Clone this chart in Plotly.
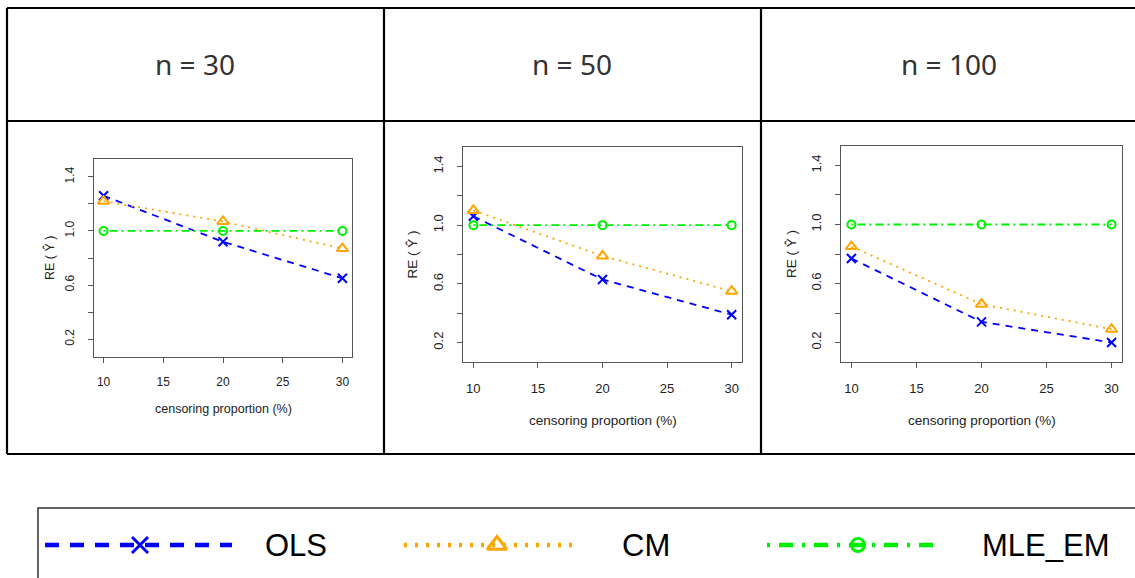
import plotly.graph_objects as go

W, H = 1135, 578

# censoring proportion (%) on the x axis
censoring = [10, 20, 30]
panel_titles = ["n = 30", "n = 50", "n = 100"]

# relative efficiency RE(Y-hat) for each sample size
ols_n30 = [1.26, 0.92, 0.65]
cm_n30 = [1.22, 1.07, 0.87]
mle_n30 = [1.00, 1.00, 1.00]

ols_n50 = [1.06, 0.63, 0.39]
cm_n50 = [1.10, 0.79, 0.55]
mle_n50 = [1.00, 1.00, 1.00]

ols_n100 = [0.77, 0.34, 0.20]
cm_n100 = [0.85, 0.46, 0.29]
mle_n100 = [1.00, 1.00, 1.00]

y_tickvals = [0.2, 0.4, 0.6, 0.8, 1.0, 1.2, 1.4]
y_ticktext = ["0.2", "", "0.6", "", "1.0", "", "1.4"]
x_tickvals = [10, 15, 20, 25, 30]

series_names = ["OLS", "CM", "MLE_EM"]
panels_data = [
    (ols_n30, cm_n30, mle_n30),
    (ols_n50, cm_n50, mle_n50),
    (ols_n100, cm_n100, mle_n100),
]

BLUE, ORANGE, GREEN = "#0000FF", "#FFA500", "#00EE00"
styles = {
    "OLS": dict(color=BLUE, dash="7px,6px", symbol="x-thin", msize=9),
    "CM": dict(color=ORANGE, dash="2px,5px", symbol="triangle-up-open", msize=10),
    "MLE_EM": dict(color=GREEN, dash="2px,4px,8px,4px", symbol="circle-open", msize=8),
}


def px_x(x):
    return x / W


def px_y(y):
    return 1 - y / H


# plot-box pixel extents (left, right, top, bottom) and label sizes per panel
boxes = [
    dict(l=94, r=352, t=159, b=357, font=12.5, tick=12, ytitle_x=49, xtitle_y=409),
    dict(l=463, r=742, t=147, b=362, font=13.5, tick=13, ytitle_x=412, xtitle_y=420),
    dict(l=841, r=1122, t=146, b=362, font=13.5, tick=13, ytitle_x=791, xtitle_y=420),
]

fig = go.Figure()
annotations = []
shapes = []
TXT = "#222222"
AX = "#555555"


def label(x, y, text, size, family="Liberation Sans, Arial", color=TXT, angle=0, xanchor="center"):
    return dict(x=px_x(x), y=px_y(y), xref="paper", yref="paper", text=text,
                textangle=angle, xanchor=xanchor, yanchor="middle", showarrow=False,
                font=dict(family=family, size=size, color=color))


for i, (box, values) in enumerate(zip(boxes, panels_data)):
    k = "" if i == 0 else str(i + 1)
    for name, vals in zip(series_names, values):
        st = styles[name]
        marker = dict(symbol=st["symbol"], size=st["msize"], color=st["color"],
                      line=dict(width=2, color=st["color"]))
        fig.add_trace(go.Scatter(
            x=censoring, y=vals, mode="lines+markers", name=name,
            xaxis="x" + k, yaxis="y" + k, showlegend=False,
            line=dict(color=st["color"], width=1.8, dash=st["dash"]),
            marker=marker, cliponaxis=False,
        ))
    fs = box["font"]
    tickfont = dict(family="Liberation Sans, Arial", size=box["tick"], color=TXT)
    fig.update_layout(**{
        "xaxis" + k: dict(
            domain=[px_x(box["l"]), px_x(box["r"])], range=[9.2, 30.8],
            anchor="y" + k, tickvals=x_tickvals, ticks="outside", ticklen=5,
            tickcolor=AX, showline=True, linecolor=AX, linewidth=1, mirror=True,
            showgrid=False, zeroline=False, ticklabelstandoff=9, tickfont=tickfont,
        ),
        "yaxis" + k: dict(
            domain=[px_y(box["b"]), px_y(box["t"])], range=[0.068, 1.532],
            anchor="x" + k, tickvals=y_tickvals, ticktext=y_ticktext,
            tickangle=-90, ticks="outside", ticklen=5, tickcolor=AX,
            showline=True, linecolor=AX, linewidth=1, mirror=True,
            showgrid=False, zeroline=False, ticklabelstandoff=9, tickfont=tickfont,
        ),
    })
    annotations.append(label(box["ytitle_x"], (box["t"] + box["b"]) / 2,
                             "RE ( Ŷ )", fs, angle=-90))
    annotations.append(label((box["l"] + box["r"]) / 2, box["xtitle_y"],
                             "censoring proportion (%)", fs))

# table header labels
col_centers = [195, 572, 949]
for cx, title in zip(col_centers, panel_titles):
    annotations.append(label(cx, 64, title, 28, family="Noto Sans, Open Sans", color="#333333"))

# table grid lines
grid = dict(color="#000000", width=2.2)
for x0, y0, x1, y1 in [
    (7, 8, 1140, 8), (7, 121, 1140, 121), (7, 454, 1140, 454),
    (7, 8, 7, 454), (384, 8, 384, 454), (761, 8, 761, 454),
]:
    shapes.append(dict(type="line", xref="paper", yref="paper",
                       x0=px_x(x0), y0=px_y(y0), x1=px_x(x1), y1=px_y(y1), line=grid))

# legend box
shapes.append(dict(type="rect", xref="paper", yref="paper",
                   x0=px_x(38), y0=px_y(600), x1=px_x(1145), y1=px_y(508),
                   line=dict(color="#333333", width=1.5), fillcolor="rgba(0,0,0,0)"))

# legend keys drawn on a hidden pixel-space axis
legend_keys = {
    "OLS": dict(x0=45, x1=232, xm=140, xt=263, dash="14px,11px", msize=16),
    "CM": dict(x0=404, x1=580, xm=497, xt=620, dash="3px,8px", msize=17),
    "MLE_EM": dict(x0=767, x1=941, xm=858, xt=980, dash="3px,9px,14px,9px", msize=13),
}
KEY_Y = 545
for name in series_names:
    st = styles[name]
    lk = legend_keys[name]
    fig.add_trace(go.Scatter(
        x=[lk["x0"], lk["x1"]], y=[KEY_Y, KEY_Y], mode="lines",
        xaxis="x4", yaxis="y4", showlegend=False, hoverinfo="skip",
        line=dict(color=st["color"], width=4.5, dash=lk["dash"]),
    ))
    fig.add_trace(go.Scatter(
        x=[lk["xm"]], y=[KEY_Y], mode="markers", xaxis="x4", yaxis="y4",
        showlegend=False, hoverinfo="skip", cliponaxis=False,
        marker=dict(symbol=st["symbol"], size=lk["msize"], color=st["color"],
                    line=dict(width=3, color=st["color"])),
    ))
    annotations.append(label(lk["xt"], KEY_Y, name, 31, color="#000000", xanchor="left"))

fig.update_layout(
    xaxis4=dict(domain=[0, 1], range=[0, W], visible=False, anchor="y4"),
    yaxis4=dict(domain=[0, px_y(500)], range=[H, 500], visible=False, anchor="x4"),
    width=W, height=H, margin=dict(l=0, r=0, t=0, b=0),
    paper_bgcolor="white", plot_bgcolor="rgba(0,0,0,0)",
    annotations=annotations, shapes=shapes, showlegend=False,
)

fig.write_html("out.html")
